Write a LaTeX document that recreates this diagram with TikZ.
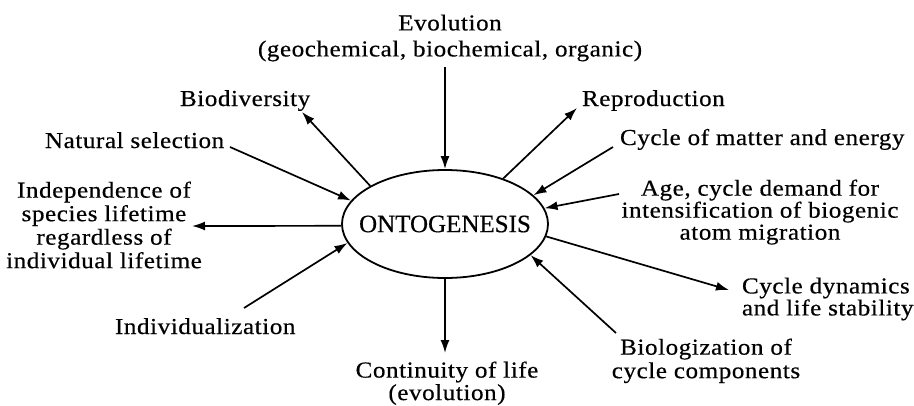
\documentclass[tikz,border=0pt]{standalone}
\usepackage{fontspec}
\setmainfont{Liberation Serif}[FakeStretch=1.1, LetterSpace=2.5, FakeBold=0.5]
\newfontfamily\ontfont{Liberation Serif}[FakeBold=0.5]
\usetikzlibrary{arrows.meta,shapes.geometric}
\tikzset{
  lbl/.style={inner sep=0pt, outer sep=0pt, align=center, font=\fontsize{22.8}{23.5}\selectfont},
  conn/.style={line width=1.7pt, -{Latex[length=13pt,width=9pt]}},
  ontbox/.style={ellipse, draw, line width=1.8pt, minimum width=206pt, minimum height=108pt, inner sep=0pt, font=\ontfont\fontsize{25}{27}\selectfont}
}
\begin{document}
\begin{tikzpicture}[x=1pt,y=-1pt]
\useasboundingbox (0,0) rectangle (914,405);
\node[ontbox] (ont) at (445,224) {\makebox[0pt]{ONTOGENESIS}};

\node[lbl, anchor=north] (evo) at (450,14.6) {Evolution\\[2.5pt](geochemical, biochemical, organic)};
\node[lbl, anchor=base west] (bio) at (180,106) {Biodiversity};
\node[lbl, anchor=base west] (nat) at (45,148) {Natural selection};
\node[lbl, anchor=north] (ind) at (104,181.6) {Independence of\\species lifetime\\regardless of\\individual lifetime};
\node[lbl, anchor=base west] (indiv) at (115,334) {Individualization};
\node[lbl, anchor=north] (cont) at (447,361.5) {Continuity of life\\[-1pt](evolution)};
\node[lbl, anchor=north] (biol) at (706,338.6) {Biologization of\\cycle components};
\node[lbl, anchor=north west, align=left] (dyn) at (742,277.6) {Cycle dynamics\\[-1.5pt]and life stability};
\node[lbl, anchor=north] (age) at (760,179.6) {Age, cycle demand for\\[-1.5pt]intensification of biogenic\\[-1.5pt]atom migration};
\node[lbl, anchor=base west] (cme) at (620,145) {Cycle of matter and energy};
\node[lbl, anchor=base west] (rep) at (582,106) {Reproduction};

\coordinate (evoT) at (445,67);
\coordinate (bioH) at (302,112);
\coordinate (natT) at (230,147);
\coordinate (indH) at (192,226);
\coordinate (indivT) at (244,308);
\coordinate (contH) at (445,353);
\coordinate (biolT) at (616,333);
\coordinate (dynH) at (729,290);
\coordinate (ageT) at (619,194);
\coordinate (cmeT) at (613,147);
\coordinate (repH) at (577,108);

\draw[conn] (evoT) -- (ont.90);
\draw[conn] (ont.153.7) -- (bioH);
\draw[conn] (natT) -- (ont.166);
\draw[conn] (ont.181) -- (indH);
\draw[conn] (indivT) -- (ont.191.9);
\draw[conn] (ont.270) -- (contH);
\draw[conn] (biolT) -- (ont.-20);
\draw[conn] (ont.-7.2) -- (dynH);
\draw[conn] (ageT) -- (ont.9.1);
\draw[conn] (cmeT) -- (ont.18.2);
\draw[conn] (ont.38.9) -- (repH);
\end{tikzpicture}
\end{document}
